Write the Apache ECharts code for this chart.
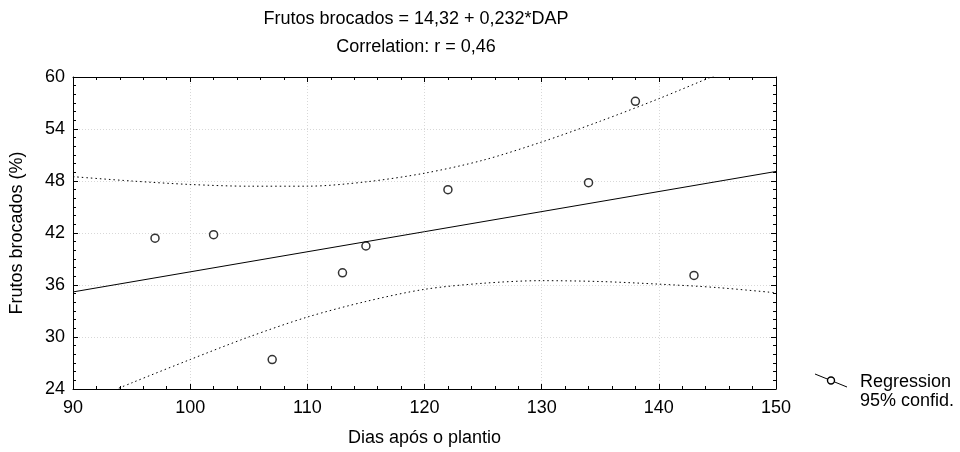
<!DOCTYPE html>
<html>
<head>
<meta charset="utf-8">
<title>Frutos brocados x DAP</title>
<script src="https://cdn.jsdelivr.net/npm/echarts@6/dist/echarts.min.js"></script>
<style>
html,body{margin:0;padding:0;background:#fff;}
#chart{width:960px;height:452px;}
</style>
</head>
<body>
<div id="chart"></div>
<script>
// pontos observados (dias apos o plantio, % frutos brocados)
var dap = [97, 102, 107, 113, 115, 122, 134, 138, 143];
var brocados = [41.4, 41.8, 27.4, 37.4, 40.5, 47.0, 47.8, 57.2, 37.1];

// reta de regressao nos extremos do eixo
var retaX = [90, 150];
var retaY = [35.2, 49.1];

// faixa de confianca 95%
var faixaX = [90, 95, 100, 105, 110, 115, 120, 125, 130, 135, 140, 145, 150];
var faixaSup = [48.5, 48.0, 47.6, 47.4, 47.4, 47.9, 48.9, 50.4, 52.5, 54.9, 57.5, 60.3, 63.1];
var faixaInf = [21.9, 24.7, 27.4, 30.0, 32.3, 34.1, 35.5, 36.2, 36.5, 36.4, 36.1, 35.7, 35.1];

// textos
var titulo1 = 'Frutos brocados = 14,32 + 0,232*DAP';
var titulo2 = 'Correlation: r = 0,46';
var nomeX = 'Dias após o plantio';
var nomeY = 'Frutos brocados (%)';
var legenda1 = 'Regression';
var legenda2 = '95% confid.';

var fonte = 'Liberation Sans, Arial, sans-serif';
var tam = 18;

function pares(xs, ys) {
	var out = [];
	for (var i = 0; i < xs.length; i++) {
		out.push([xs[i], ys[i]]);
	}
	return out;
}

var myChart = echarts.init(document.getElementById('chart'));

var eixoBase = {
	type: 'value',
	axisLine: { show: true, onZero: false, lineStyle: { color: '#000', width: 1 } },
	axisTick: { show: true, inside: true, length: 5, lineStyle: { color: '#000' } },
	minorTick: { show: true, length: 3, lineStyle: { color: '#000' } },
	axisLabel: { color: '#000', fontSize: tam, fontFamily: fonte },
	splitLine: { show: false }
};

function eixo(extra) {
	return echarts.util.merge(echarts.util.clone(eixoBase), extra, true);
}

var grade = { show: true, lineStyle: { color: '#d8d8d8', width: 1, type: [1, 2] } };

var option = {
	animation: false,
	backgroundColor: '#fff',
	grid: { left: 73, right: 184, top: 77, bottom: 62 },
	xAxis: [
		eixo({
			position: 'bottom', min: 90, max: 150, interval: 10,
			minorTick: { splitNumber: 5 },
			axisLabel: { margin: 10 },
			splitLine: grade,
			name: nomeX, nameLocation: 'middle', nameGap: 40,
			nameTextStyle: { color: '#000', fontSize: tam, fontFamily: fonte }
		}),
		eixo({
			position: 'top', min: 90, max: 150, interval: 10,
			minorTick: { splitNumber: 5 },
			axisLabel: { show: false }
		})
	],
	yAxis: [
		eixo({
			position: 'left', min: 24, max: 60, interval: 6,
			minorTick: { splitNumber: 6 },
			axisLabel: { margin: 8 },
			splitLine: grade,
			name: nomeY, nameLocation: 'middle', nameGap: 47, nameRotate: 90,
			nameTextStyle: { color: '#000', fontSize: tam, fontFamily: fonte }
		}),
		eixo({
			position: 'right', min: 24, max: 60, interval: 6,
			minorTick: { splitNumber: 6 },
			axisLabel: { show: false }
		})
	],
	series: [
		{
			name: '95% confid. sup',
			type: 'line',
			data: pares(faixaX, faixaSup),
			smooth: 0.3,
			symbol: 'none',
			clip: true,
			lineStyle: { color: '#000', width: 1, type: [1.5, 3] }
		},
		{
			name: '95% confid. inf',
			type: 'line',
			data: pares(faixaX, faixaInf),
			smooth: 0.3,
			symbol: 'none',
			clip: true,
			lineStyle: { color: '#000', width: 1, type: [1.5, 3] }
		},
		{
			name: 'Regression',
			type: 'line',
			data: pares(retaX, retaY),
			symbol: 'none',
			lineStyle: { color: '#000', width: 1 }
		},
		{
			name: 'Pontos',
			type: 'scatter',
			data: pares(dap, brocados),
			symbol: 'circle',
			symbolSize: 8,
			z: 5,
			itemStyle: { color: '#fff', borderColor: '#000', borderWidth: 1.5 }
		}
	],
	graphic: [
		{ type: 'text', x: 416, y: 19, style: { text: titulo1, fill: '#000', font: tam + 'px ' + fonte, textAlign: 'center', textVerticalAlign: 'middle' } },
		{ type: 'text', x: 416, y: 47, style: { text: titulo2, fill: '#000', font: tam + 'px ' + fonte, textAlign: 'center', textVerticalAlign: 'middle' } },
		// legenda
		{ type: 'line', shape: { x1: 815, y1: 374, x2: 847, y2: 387 }, style: { stroke: '#000', lineWidth: 1 } },
		{ type: 'circle', shape: { cx: 831, cy: 380.5, r: 3.5 }, style: { fill: '#fff', stroke: '#000', lineWidth: 1.4 } },
		{ type: 'text', x: 860, y: 382, style: { text: legenda1, fill: '#000', font: tam + 'px ' + fonte, textVerticalAlign: 'middle' } },
		{ type: 'text', x: 860, y: 401, style: { text: legenda2, fill: '#000', font: tam + 'px ' + fonte, textVerticalAlign: 'middle' } }
	]
};

myChart.setOption(option);
window.onresize = myChart.resize;
</script>
</body>
</html>
